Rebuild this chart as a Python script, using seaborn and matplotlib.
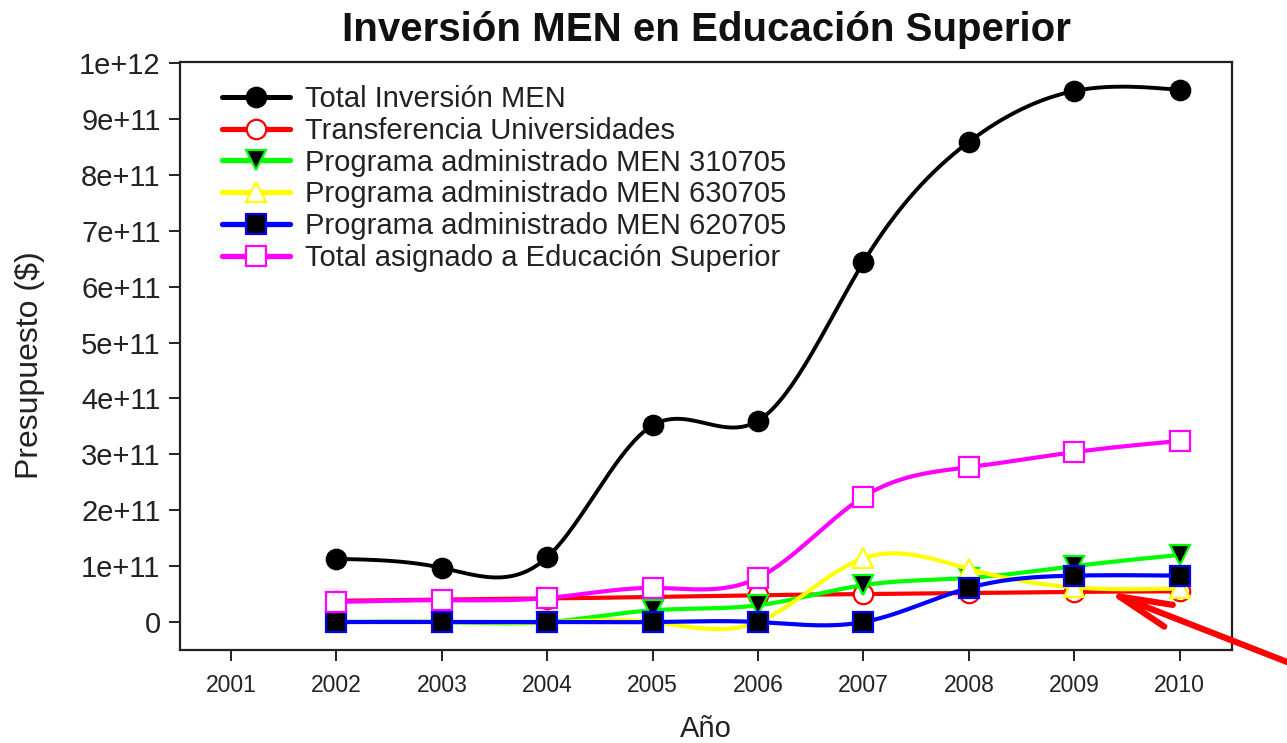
import numpy as np
import pandas as pd
import matplotlib
matplotlib.use("Agg")
import matplotlib.pyplot as plt
from matplotlib.lines import Line2D
import seaborn as sns

# ---------------- data ----------------
years = [2002, 2003, 2004, 2005, 2006, 2007, 2008, 2009, 2010]
total_inversion_men = [1.13e11, 0.97e11, 1.16e11, 3.52e11, 3.60e11, 6.44e11, 8.59e11, 9.50e11, 9.52e11]
transferencia_univ = [0.38e11, 0.40e11, 0.42e11, 0.45e11, 0.48e11, 0.50e11, 0.52e11, 0.54e11, 0.55e11]
prog_310705 = [0.0, 0.0, 0.0, 0.21e11, 0.30e11, 0.66e11, 0.79e11, 1.00e11, 1.20e11]
prog_630705 = [0.0, 0.0, 0.0, 0.0, 0.0, 1.14e11, 0.95e11, 0.62e11, 0.60e11]
prog_620705 = [0.0, 0.0, 0.0, 0.0, 0.0, 0.0, 0.61e11, 0.83e11, 0.83e11]
total_educ_sup = [0.36e11, 0.39e11, 0.43e11, 0.61e11, 0.79e11, 2.24e11, 2.77e11, 3.04e11, 3.24e11]

series_labels = ["Total Inversión MEN", "Transferencia Universidades",
                 "Programa administrado MEN 310705", "Programa administrado MEN 630705",
                 "Programa administrado MEN 620705", "Total asignado a Educación Superior"]
x_ticks = [2001, 2002, 2003, 2004, 2005, 2006, 2007, 2008, 2009, 2010]
y_ticks = [0, 1e11, 2e11, 3e11, 4e11, 5e11, 6e11, 7e11, 8e11, 9e11, 1e12]
y_tick_labels = ["0", "1e+11", "2e+11", "3e+11", "4e+11", "5e+11", "6e+11",
                 "7e+11", "8e+11", "9e+11", "1e+12"]

# ---------------- styles ----------------
styles = [
    dict(color="#000000", marker="o", fc="#000000", ec="#000000", ms=14, lw=2.8),
    dict(color="#FF0000", marker="o", fc="white", ec="#FF0000", ms=14, lw=3.0),
    dict(color="#00FF00", marker="v", fc="#000000", ec="#00FF00", ms=14, lw=3.0),
    dict(color="#FFFF00", marker="^", fc="white", ec="#FFFF00", ms=14, lw=3.0),
    dict(color="#0000FF", marker="s", fc="#000000", ec="#0000FF", ms=14, lw=3.0),
    dict(color="#FF00FF", marker="s", fc="white", ec="#FF00FF", ms=14, lw=3.0),
]
all_series = [total_inversion_men, transferencia_univ, prog_310705,
              prog_630705, prog_620705, total_educ_sup]


def natural_spline(x, y, xs):
    x = np.asarray(x, float)
    y = np.asarray(y, float)
    n = len(x)
    h = np.diff(x)
    A = np.zeros((n, n))
    b = np.zeros(n)
    A[0, 0] = 1.0
    A[-1, -1] = 1.0
    for i in range(1, n - 1):
        A[i, i - 1] = h[i - 1]
        A[i, i] = 2 * (h[i - 1] + h[i])
        A[i, i + 1] = h[i]
        b[i] = 6 * ((y[i + 1] - y[i]) / h[i] - (y[i] - y[i - 1]) / h[i - 1])
    M = np.linalg.solve(A, b)
    idx = np.clip(np.searchsorted(x, xs) - 1, 0, n - 2)
    x0, x1 = x[idx], x[idx + 1]
    hh = x1 - x0
    t0 = x1 - xs
    t1 = xs - x0
    return (M[idx] * t0 ** 3 / (6 * hh) + M[idx + 1] * t1 ** 3 / (6 * hh)
            + (y[idx] / hh - M[idx] * hh / 6) * t0
            + (y[idx + 1] / hh - M[idx + 1] * hh / 6) * t1)


sns.set_style("white")
plt.rcParams["font.family"] = ["Liberation Sans", "DejaVu Sans"]

fig = plt.figure(figsize=(12.87, 7.43), dpi=100)
ax = fig.add_axes([0.1399, 0.1252, 0.8174, 0.7914])

xf = np.linspace(years[0], years[-1], 400)
handles = []
for k, (vals, st, lab) in enumerate(zip(all_series, styles, series_labels)):
    yf = natural_spline(years, vals, xf)
    sns.lineplot(x=xf, y=yf, color=st["color"], linewidth=st["lw"], ax=ax,
                 sort=False, legend=False, zorder=2 + 2 * k)
    ax.plot(years, vals, linestyle="none", marker=st["marker"], markersize=st["ms"],
            markerfacecolor=st["fc"], markeredgecolor=st["ec"], markeredgewidth=1.6,
            zorder=3 + 2 * k)
    handles.append(Line2D([], [], color=st["color"], linewidth=st["lw"] + 0.8,
                          marker=st["marker"], markersize=st["ms"],
                          markerfacecolor=st["fc"], markeredgecolor=st["ec"],
                          markeredgewidth=1.6, label=lab))

ax.set_xlim(2000.516, 2010.497)
ax.set_ylim(-0.50e11, 10.02e11)
ax.set_xticks(x_ticks)
ax.set_xticklabels([str(v) for v in x_ticks], fontsize=16.5, color="#222222")
ax.set_yticks(y_ticks)
ax.set_yticklabels(y_tick_labels, fontsize=21, color="#222222")
ax.tick_params(axis="both", direction="out", length=8, width=1.4, color="#222222",
               bottom=True, left=True)
ax.tick_params(axis="x", pad=9)
ax.tick_params(axis="y", pad=6)
for sp in ax.spines.values():
    sp.set_visible(True)
    sp.set_color("#222222")
    sp.set_linewidth(1.6)

ax.set_title("Inversión MEN en Educación Superior", fontsize=29, fontweight="bold",
             pad=15, color="#111111")
ax.set_xlabel("Año", fontsize=21, color="#222222")
ax.xaxis.set_label_coords(0.5, -0.110)
ax.set_ylabel("Presupuesto ($)", fontsize=23, color="#222222")
ax.yaxis.set_label_coords(-0.128, 0.485)

leg = ax.legend(handles=handles, loc="upper left",
                bbox_to_anchor=(222 / 1287, 1 - 85 / 743), bbox_transform=fig.transFigure,
                frameon=False, fontsize=21, borderpad=0, borderaxespad=0,
                handlelength=2.33, handletextpad=0.51, labelspacing=0.13)
for t in leg.get_texts():
    t.set_color("#222222")

ax.annotate("", xy=(2009.3, 0.55e11), xycoords="data",
            xytext=(1300, 743 - 667), textcoords="figure pixels",
            arrowprops=dict(arrowstyle="->,head_length=1.9,head_width=0.42",
                            color="#FF0000", lw=4.5, mutation_scale=20,
                            shrinkA=0, shrinkB=0),
            annotation_clip=False, zorder=20)

fig.savefig("out.png", dpi=100)
